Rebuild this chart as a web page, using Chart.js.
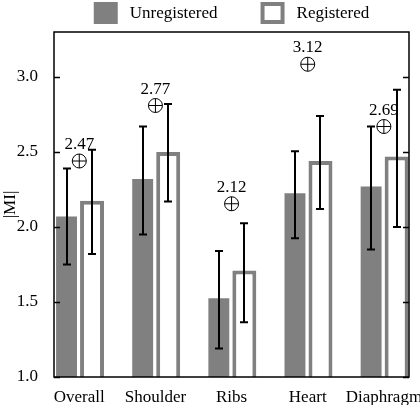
<!DOCTYPE html>
<html>
<head>
<meta charset="utf-8">
<script src="https://cdn.jsdelivr.net/npm/chart.js@4/dist/chart.umd.min.js"></script>
<style>
  body { margin: 0; background: #fff; }
  canvas { display: block; }
</style>
</head>
<body>
<canvas id="grafico-mi" width="420" height="405"></canvas>
<script>
// Datos
const categorias = ['Overall', 'Shoulder', 'Ribs', 'Heart', 'Diaphragm'];
const sinRegistro = [2.07, 2.32, 1.525, 2.225, 2.27];
const conRegistro = [2.175, 2.50, 1.71, 2.44, 2.47];
const sinRegistroBajo = [1.75, 1.95, 1.19, 1.925, 1.85];
const sinRegistroAlto = [2.39, 2.67, 1.84, 2.505, 2.67];
const conRegistroBajo = [1.82, 2.17, 1.365, 2.12, 2.0];
const conRegistroAlto = [2.515, 2.82, 2.025, 2.74, 2.915];
const marcadores = [2.44, 2.81, 2.155, 3.085, 2.67];
const etiquetasMarcadores = ['2.47', '2.77', '2.12', '3.12', '2.69'];
const ticksY = [1.0, 1.5, 2.0, 2.5, 3.0];

const GRIS = '#808080';
const FUENTE = '"Liberation Serif", "DejaVu Serif", serif';

const aPuntos = (valores) => valores.map((v, i) => ({ x: i + 1, y: v }));

// Barras de error
const barrasError = {
    id: 'barrasError',
    afterDatasetsDraw(chart) {
        const { ctx } = chart;
        const y = chart.scales.y;
        const rangos = [[sinRegistroBajo, sinRegistroAlto], [conRegistroBajo, conRegistroAlto]];
        ctx.save();
        ctx.strokeStyle = '#000';
        ctx.lineWidth = 2;
        rangos.forEach(([bajo, alto], d) => {
            chart.getDatasetMeta(d).data.forEach((barra, i) => {
                const x = Math.round(barra.x);
                const y1 = y.getPixelForValue(bajo[i]);
                const y2 = y.getPixelForValue(alto[i]);
                ctx.beginPath();
                ctx.moveTo(x, y1); ctx.lineTo(x, y2);
                ctx.moveTo(x - 4, y1); ctx.lineTo(x + 4, y1);
                ctx.moveTo(x - 4, y2); ctx.lineTo(x + 4, y2);
                ctx.stroke();
            });
        });
        // etiquetas sobre los marcadores
        ctx.fillStyle = '#000';
        ctx.font = '17px ' + FUENTE;
        ctx.textAlign = 'center';
        ctx.textBaseline = 'alphabetic';
        chart.getDatasetMeta(2).data.forEach((p, i) => {
            ctx.fillText(etiquetasMarcadores[i], p.x, p.y - 12);
        });
        ctx.restore();
    }
};

// Marco y marcas hacia adentro
const marco = {
    id: 'marco',
    afterDraw(chart) {
        const { ctx, chartArea: a } = chart;
        const y = chart.scales.y;
        ctx.save();
        ctx.strokeStyle = '#000';
        ctx.lineWidth = 1.5;
        ctx.strokeRect(a.left, a.top, a.right - a.left, a.bottom - a.top);
        ctx.beginPath();
        ticksY.forEach(v => {
            const py = Math.round(y.getPixelForValue(v)) + 0.5;
            ctx.moveTo(a.left, py); ctx.lineTo(a.left + 6, py);
            ctx.moveTo(a.right, py); ctx.lineTo(a.right - 6, py);
        });
        ctx.stroke();
        ctx.restore();
    }
};

// Leyenda superior
const leyenda = {
    id: 'leyenda',
    afterDraw(chart) {
        const { ctx, chartArea: a } = chart;
        const items = chart.data.datasets.slice(0, 2);
        ctx.save();
        ctx.font = '17px ' + FUENTE;
        const anchos = items.map(d => 24 + 12 + ctx.measureText(d.label).width);
        const total = anchos[0] + 43 + anchos[1];
        let x = (a.left + a.right) / 2 - total / 2;
        items.forEach((d, i) => {
            if (d.backgroundColor === GRIS) {
                ctx.fillStyle = GRIS;
                ctx.fillRect(x, 2, 24, 22);
            } else {
                ctx.strokeStyle = GRIS;
                ctx.lineWidth = 4;
                ctx.strokeRect(x + 2, 4, 20, 18);
            }
            ctx.fillStyle = '#000';
            ctx.textBaseline = 'middle';
            ctx.fillText(d.label, x + 36, 14);
            x += anchos[i] + 43;
        });
        ctx.restore();
    }
};

new Chart(document.getElementById('grafico-mi').getContext('2d'), {
    type: 'bar',
    data: {
        datasets: [
            {
                label: 'Unregistered',
                data: aPuntos(sinRegistro),
                backgroundColor: GRIS,
                borderWidth: 0,
                categoryPercentage: 0.67,
                barPercentage: 0.82,
                order: 2
            },
            {
                label: 'Registered',
                data: aPuntos(conRegistro),
                backgroundColor: '#fff',
                borderColor: GRIS,
                borderWidth: 4,
                borderSkipped: false,
                categoryPercentage: 0.67,
                barPercentage: 0.94,
                order: 2
            },
            {
                type: 'scatter',
                label: 'circulo',
                data: aPuntos(marcadores),
                pointStyle: 'circle',
                pointRadius: 7,
                borderColor: '#000',
                borderWidth: 1,
                backgroundColor: 'rgba(0,0,0,0)',
                order: 1
            },
            {
                type: 'scatter',
                label: 'cruz',
                data: aPuntos(marcadores),
                pointStyle: 'cross',
                pointRadius: 7,
                borderColor: '#000',
                borderWidth: 1,
                order: 1
            }
        ]
    },
    options: {
        responsive: false,
        animation: false,
        layout: { padding: { top: 32, right: 11, left: 0, bottom: 0 } },
        plugins: {
            legend: { display: false },
            tooltip: { enabled: false }
        },
        scales: {
            x: {
                type: 'linear',
                min: 0.668,
                max: 5.33,
                offset: false,
                grid: { display: false, drawTicks: false },
                border: { display: false },
                afterBuildTicks: (s) => { s.ticks = categorias.map((c, i) => ({ value: i + 1 })); },
                afterFit: (s) => {
                    s.height = 28;
                    s.paddingLeft = 0;
                    s.paddingRight = 0;
                },
                ticks: {
                    autoSkip: false,
                    maxRotation: 0,
                    padding: 10,
                    color: '#000',
                    font: { family: FUENTE, size: 17 },
                    callback: (v) => categorias[v - 1]
                }
            },
            y: {
                min: 1,
                max: 3.3,
                grid: { display: false, drawTicks: false },
                border: { display: false },
                afterBuildTicks: (s) => { s.ticks = ticksY.map(v => ({ value: v })); },
                afterFit: (s) => { s.width = 54; },
                title: {
                    display: true,
                    text: '|MI|',
                    color: '#000',
                    padding: 0,
                    font: { family: FUENTE, size: 17 }
                },
                ticks: {
                    padding: 16,
                    color: '#000',
                    font: { family: FUENTE, size: 17 },
                    callback: (v) => v.toFixed(1)
                }
            }
        }
    },
    plugins: [barrasError, marco, leyenda]
});
</script>
</body>
</html>
